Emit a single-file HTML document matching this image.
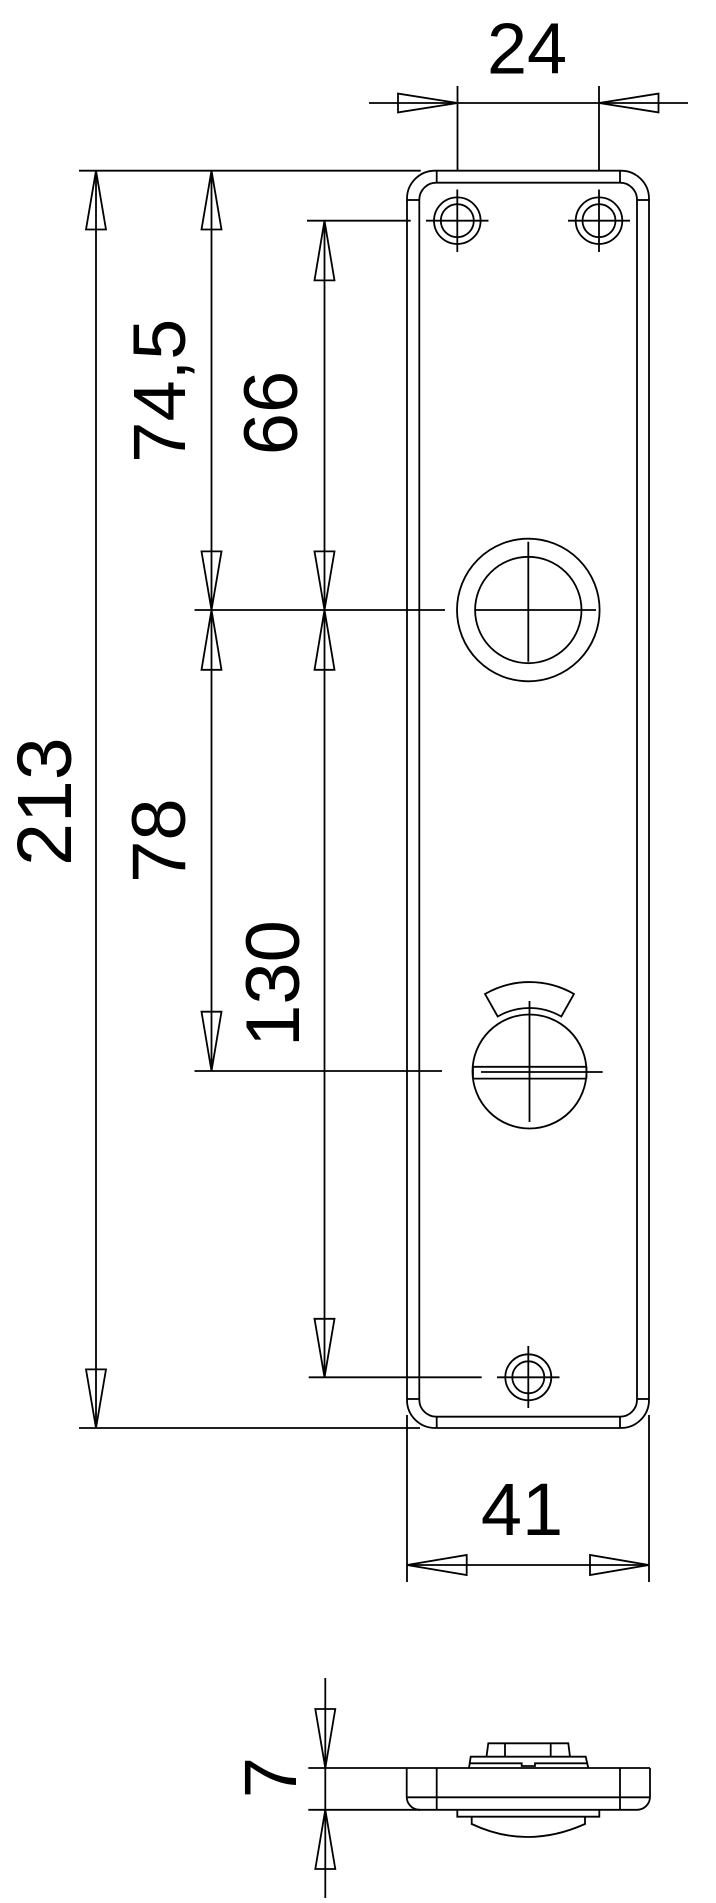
<!DOCTYPE html>
<html><head><meta charset="utf-8"><style>html,body{margin:0;padding:0;background:#fff}svg{display:block}</style></head>
<body>
<svg width="716" height="1903" viewBox="0 0 716 1903" xmlns="http://www.w3.org/2000/svg">
<g fill="none" stroke="#000" stroke-width="1.8">
<path d="M435,170.7 H621 A28,28 0 0 1 649,198.7 V1400 A28,28 0 0 1 621,1428 H435 A28,28 0 0 1 407,1400 V198.7 A28,28 0 0 1 435,170.7 Z"/>
<path d="M436.5,182.7 H620 A17,17 0 0 1 637,199.7 V1399.7 A17,17 0 0 1 620,1416.7 H436.5 A17,17 0 0 1 419.3,1399.7 V199.7 A17,17 0 0 1 436.5,182.7 Z"/>
<line x1="436.7" y1="170.7" x2="436.7" y2="182.7"/><line x1="620" y1="170.7" x2="620" y2="182.7"/>
<line x1="436.7" y1="1416.7" x2="436.7" y2="1428"/><line x1="620" y1="1416.7" x2="620" y2="1428"/>
<line x1="407" y1="200" x2="419.3" y2="200"/><line x1="637" y1="200" x2="649" y2="200"/>
<line x1="407" y1="1399" x2="419.3" y2="1399"/><line x1="637" y1="1399" x2="649" y2="1399"/>
<circle cx="457.3" cy="220.7" r="23.3"/><circle cx="457.3" cy="220.7" r="16.5"/>
<line x1="426" y1="220.7" x2="488.5" y2="220.7"/><line x1="457.3" y1="189.5" x2="457.3" y2="252"/>
<circle cx="599" cy="220.7" r="23.3"/><circle cx="599" cy="220.7" r="16.5"/>
<line x1="568" y1="220.7" x2="630" y2="220.7"/><line x1="599" y1="189.5" x2="599" y2="252"/>
<circle cx="528.3" cy="1377.3" r="23"/><circle cx="528.3" cy="1377.3" r="16"/>
<line x1="497" y1="1377.3" x2="559.5" y2="1377.3"/><line x1="528.3" y1="1346" x2="528.3" y2="1408"/>
<circle cx="528.3" cy="610" r="71.3"/><circle cx="528.3" cy="610" r="53.2"/>
<line x1="476" y1="610" x2="596" y2="610"/><line x1="528.3" y1="541.7" x2="528.3" y2="661.7"/>
<circle cx="529.5" cy="1071.5" r="57"/>
<line x1="473" y1="1066.8" x2="586.4" y2="1066.8"/><line x1="473" y1="1078.6" x2="586.4" y2="1078.6"/>
<line x1="473" y1="1066.8" x2="473" y2="1078.6"/><line x1="586.4" y1="1066.8" x2="586.4" y2="1078.6"/>
<line x1="481" y1="1072" x2="602.7" y2="1072"/><line x1="529.5" y1="1001" x2="529.5" y2="1122"/>
<path d="M485,994 A89,89 0 0 1 574,994 L561.3,1016.5 A63.5,63.5 0 0 0 497.7,1016.5 Z"/>
<line x1="369" y1="103" x2="688" y2="103"/>
<line x1="457.5" y1="86" x2="457.5" y2="170.7"/><line x1="599" y1="86" x2="599" y2="170.7"/>
<path d="M457.5,103 L398,93.6 V112.4 Z"/><path d="M599,103 L658.5,93.6 V112.4 Z"/>
<line x1="79" y1="170.7" x2="420.7" y2="170.7"/>
<line x1="79" y1="1428" x2="420" y2="1428"/>
<line x1="307" y1="220.7" x2="410.7" y2="220.7"/>
<line x1="194.5" y1="610" x2="445" y2="610"/>
<line x1="194.5" y1="1071" x2="442" y2="1071"/>
<line x1="308.7" y1="1377.3" x2="481.7" y2="1377.3"/>
<line x1="96" y1="170.7" x2="96" y2="1428"/>
<path d="M96,170.7 L86,229.5 H106 Z"/><path d="M96,1428 L86,1369.4 H106 Z"/>
<line x1="211.5" y1="170.7" x2="211.5" y2="1071"/>
<path d="M211.5,170.7 L201.5,229.5 H221.5 Z"/>
<path d="M211.5,610 L201.5,551.4 H221.5 Z"/><path d="M211.5,610 L201.5,669.8 H221.5 Z"/>
<path d="M211.5,1071 L201.5,1011.7 H221.5 Z"/>
<line x1="324.5" y1="220.7" x2="324.5" y2="1377.3"/>
<path d="M324.5,220.7 L314.5,280.4 H334.5 Z"/>
<path d="M324.5,610 L314.5,551.4 H334.5 Z"/><path d="M324.5,610 L314.5,669.8 H334.5 Z"/>
<path d="M324.5,1377.3 L314.5,1318.8 H334.5 Z"/>
<line x1="407" y1="1415" x2="407" y2="1582"/><line x1="649" y1="1415" x2="649" y2="1582"/>
<line x1="407" y1="1565" x2="649" y2="1565"/>
<path d="M407,1565 L466.7,1555 V1575 Z"/><path d="M649,1565 L590,1555 V1575 Z"/>
<line x1="308.3" y1="1768" x2="650" y2="1768"/>
<line x1="308.3" y1="1809.8" x2="420" y2="1809.8"/>
<path d="M406.7,1768 V1797 A13,13 0 0 0 419.7,1809.8 H637 A13,13 0 0 0 650,1797 V1768"/>
<line x1="406.7" y1="1797.3" x2="650" y2="1797.3"/>
<line x1="436.7" y1="1768" x2="436.7" y2="1809.8"/><line x1="620" y1="1768" x2="620" y2="1809.8"/>
<path d="M469,1768 L470.7,1756.7 H585.7 L588.3,1768"/>
<path d="M470,1763.3 H521.7 V1766 H535 V1763.3 H588"/>
<path d="M486.5,1756.7 L488.3,1743.3 H568.3 L570,1756.7"/>
<line x1="505" y1="1743.3" x2="505" y2="1756.7"/><line x1="550.7" y1="1743.3" x2="550.7" y2="1756.7"/>
<path d="M457.3,1809.8 V1816.7 H599.3 V1809.8"/>
<path d="M471.7,1816.7 V1824 Q526.7,1850 585,1824 V1816.7"/>
<line x1="325.3" y1="1678" x2="325.3" y2="1898"/>
<path d="M325.3,1768 L315.3,1709 H335.3 Z"/><path d="M325.3,1809.8 L315.3,1869 H335.3 Z"/>
</g>
<g font-family="Liberation Sans, Arial, sans-serif" fill="#000" text-anchor="middle">
<text x="527" y="73.7" font-size="72">24</text>
<text x="522" y="1535" font-size="74">41</text>
<text transform="translate(71,801.6) rotate(-90)" font-size="77">213</text>
<text transform="translate(185,390.7) rotate(-90)" font-size="74">74,5</text>
<text transform="translate(297,413) rotate(-90)" font-size="76">66</text>
<text transform="translate(185,840.6) rotate(-90)" font-size="76">78</text>
<text transform="translate(299,983.5) rotate(-90)" font-size="76">130</text>
<text transform="translate(296,1777.5) rotate(-90)" font-size="74">7</text>
</g>
</svg>
</body></html>
